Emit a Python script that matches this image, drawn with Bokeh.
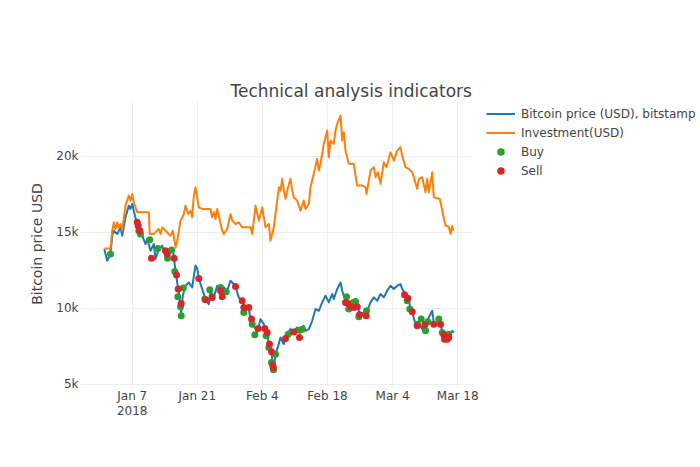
import pandas as pd
from bokeh.plotting import figure
from bokeh.models import (ColumnDataSource, Range1d, FixedTicker, CustomJSTickFormatter,
                          Legend, LegendItem, Title)
from bokeh.embed import file_html
from bokeh.resources import INLINE

# ---- data (time = days since 2018-01-01 00:00) ----
btc_day = [0.0, 0.62, 1.33, 1.70, 2.04, 2.77, 3.48, 3.85, 4.56, 5.27,
           5.63, 6.00, 6.34, 6.86, 7.42, 8.15, 8.86, 9.23, 9.94, 10.65,
           11.01, 11.72, 12.45, 12.80, 13.53, 14.24, 14.73, 14.95, 15.31, 15.68,
           16.02, 16.54, 16.88, 17.46, 18.17, 18.90, 19.61, 19.98, 20.32, 21.05,
           21.76, 22.47, 22.84, 23.55, 24.28, 24.99, 25.70, 26.43, 27.14, 27.85,
           28.22, 28.92, 29.66, 30.37, 31.08, 31.44, 32.15, 32.88, 33.59, 34.30,
           35.03, 35.38, 35.96, 36.24, 36.45, 36.82, 37.40, 37.89, 38.60, 39.33,
           40.04, 40.75, 41.48, 42.19, 42.90, 43.27, 43.98, 44.71, 45.42, 46.13,
           46.86, 47.57, 48.28, 49.01, 49.35, 50.08, 50.80, 51.16, 51.51, 52.24,
           52.95, 53.66, 54.39, 55.10, 55.81, 56.54, 57.25, 57.96, 58.69, 59.40,
           60.11, 60.84, 61.55, 62.26, 62.99, 63.70, 64.06, 64.77, 65.48, 65.85,
           66.22, 66.92, 67.63, 68.37, 69.08, 69.78, 70.52, 70.86, 71.59, 72.30,
           72.67, 73.38, 74.09, 74.82, 75.16]
btc_usd = [13880, 13110, 13550, 14760, 15090, 14870, 15310, 14760, 15970, 16740,
           16520, 16850, 16410, 15750, 15310, 14760, 14210, 14540, 13770, 14210,
           13230, 13880, 14100, 13660, 13880, 13660, 13880, 13330, 12460, 11680,
           11030, 9700, 10810, 11470, 11680, 11360, 12800, 12600, 11950, 11250,
           10590, 10260, 11140, 10700, 11470, 11140, 11360, 11140, 11800, 11580,
           11420, 10700, 10370, 9930, 9930, 9270, 8830, 8390, 9270, 8940,
           8280, 7630, 7070, 6190, 5980, 6970, 7510, 8060, 7630, 8280,
           8610, 8500, 8720, 8610, 8830, 8500, 8610, 9160, 9930, 9820,
           10370, 10810, 10370, 10920, 10590, 11250, 11680, 11140, 10810, 10370,
           10150, 10260, 10040, 9600, 9710, 9820, 10370, 10700, 10480, 10920,
           10700, 11140, 11470, 11250, 11470, 11580, 11250, 10920, 10590, 9930,
           9710, 8940, 9050, 8610, 8940, 9380, 9820, 9050, 8940, 9050,
           8390, 7950, 8060, 8500, 8390]

inv_day = [0.0, 1.33, 1.70, 2.04, 2.41, 2.77, 3.12, 3.48, 3.85, 4.56,
           5.27, 5.63, 6.00, 6.34, 7.08, 9.57, 9.78, 10.58, 11.01, 11.72,
           12.09, 12.45, 13.16, 14.24, 14.73, 15.31, 15.68, 16.39, 17.10, 17.46,
           18.04, 18.54, 18.90, 19.25, 19.61, 19.98, 20.32, 21.05, 22.84, 23.20,
           23.55, 23.91, 24.28, 24.62, 25.35, 25.70, 26.43, 27.14, 27.51, 28.22,
           28.92, 29.66, 31.44, 31.81, 32.52, 33.23, 33.96, 34.67, 35.38, 35.74,
           36.45, 37.18, 37.53, 37.89, 38.26, 38.60, 38.97, 39.33, 40.04, 40.41,
           40.75, 41.48, 42.19, 42.90, 43.27, 43.98, 44.34, 45.05, 45.78, 46.13,
           46.49, 47.20, 47.94, 48.28, 48.65, 49.35, 49.72, 50.09, 50.80, 51.16,
           51.51, 51.87, 52.58, 53.66, 54.02, 54.39, 55.46, 56.17, 56.39, 56.88,
           57.25, 57.96, 58.32, 58.82, 59.40, 60.11, 60.69, 61.55, 62.26, 62.99,
           63.70, 64.06, 64.77, 65.48, 66.22, 66.56, 67.29, 67.63, 68.37, 69.08,
           69.44, 69.78, 70.52, 70.86, 72.15, 72.67, 73.38, 74.09, 74.45, 74.82,
           75.03]
inv_usd = [13925, 13925, 15090, 15640, 15200, 15640, 15310, 15530, 15100, 16740,
           17400, 17070, 17510, 16955, 16300, 16300, 14870, 14870, 14980, 15200,
           14870, 15310, 15090, 14760, 15090, 13990, 14430, 15750, 16190, 16740,
           16190, 16410, 15970, 17400, 17950, 17290, 16630, 16520, 16520, 15970,
           16300, 15860, 16520, 16080, 15090, 14870, 15200, 16190, 15750, 15530,
           15640, 15310, 15310, 14870, 16740, 15750, 16630, 15310, 15530, 14430,
           15310, 17070, 17950, 17730, 18500, 17730, 17180, 17730, 18500, 17730,
           17290, 17070, 16410, 17070, 16520, 16850, 17950, 18830, 19820, 19050,
           19490, 20800, 21680, 19920, 21020, 20800, 21680, 22120, 22670, 21020,
           21570, 20360, 19490, 19490, 18720, 18060, 18060, 17950, 17510, 18390,
           19050, 19270, 18610, 18940, 18170, 19600, 19270, 20250, 19710, 20360,
           20580, 20030, 19270, 19160, 18940, 18610, 17840, 18500, 18610, 17620,
           18500, 17620, 18940, 17290, 17180, 16410, 15420, 15350, 14870, 15420,
           15090]

buy_day = [1.33, 7.42, 7.78, 9.78, 11.50, 13.60, 14.45, 15.16, 15.81, 16.39,
           16.54, 16.97, 21.61, 22.69, 24.99, 26.22, 30.00, 31.81, 32.37, 34.82,
           35.38, 35.96, 36.39, 36.82, 39.55, 41.98, 42.56, 52.09, 52.58, 53.53,
           54.02, 54.73, 56.39, 65.14, 65.70, 67.29, 68.15, 69.08, 69.57, 71.94,
           72.67, 74.09]
buy_usd = [13555, 15090, 14870, 14500, 13925, 13270, 13815, 12410, 10740, 10080,
           9490, 11315, 10590, 11200, 11355, 11070, 9710, 8940, 8240, 8170,
           7400, 6410, 5930, 6965, 8280, 8545, 8610, 10740, 9930, 10365,
           10430, 9420, 9820, 10480, 9930, 8940, 9270, 8500, 9090, 9270,
           8390, 8280]

sell_day = [7.08, 7.29, 7.63, 10.15, 13.16, 13.53, 15.03, 15.53, 15.89, 16.54,
            20.32, 21.76, 23.20, 24.99, 25.35, 28.22, 29.66, 30.00, 31.08, 31.66,
            33.10, 34.52, 35.03, 35.53, 35.96, 36.24, 36.32, 38.97, 40.75, 41.98,
            51.87, 52.37, 52.95, 53.66, 54.39, 54.88, 56.32, 64.56, 65.27, 66.22,
            67.29, 68.94, 70.86, 72.30, 73.00, 73.16, 73.74, 74.09]
sell_usd = [15640, 15420, 15090, 13270, 13770, 13555, 13270, 12170, 11250, 10300,
            11950, 10545, 10700, 11137, 10740, 11420, 10480, 10040, 10040, 9270,
            8650, 8650, 8390, 7625, 7115, 6240, 6080, 7990, 8430, 8060,
            10365, 10300, 10080, 10035, 10080, 9550, 9490, 10870, 10650, 9750,
            8830, 8900, 8940, 8940, 8240, 7950, 7950, 8060]

x_tick_dates = ["2018-01-07", "2018-01-21", "2018-02-04", "2018-02-18", "2018-03-04", "2018-03-18"]
y_ticks = [5000, 10000, 15000, 20000]

series_names = ["Bitcoin price (USD), bitstamp", "Investment(USD)", "Buy", "Sell"]
chart_title = "Technical analysis indicators"
y_title = "Bitcoin price USD"

# ---- helpers ----
origin = pd.Timestamp("2018-01-01")


def to_dt(days):
    return (origin + pd.to_timedelta(days, unit="D")).to_numpy()


btc_src = ColumnDataSource(dict(x=to_dt(btc_day), y=btc_usd))
inv_src = ColumnDataSource(dict(x=to_dt(inv_day), y=inv_usd))
buy_src = ColumnDataSource(dict(x=to_dt(buy_day), y=buy_usd))
sell_src = ColumnDataSource(dict(x=to_dt(sell_day), y=sell_usd))

FONT = "DejaVu Sans"
TXT = "#444444"

p = figure(width=684, height=451, frame_width=392, frame_height=287,
           x_axis_type="datetime",
           output_backend="svg", toolbar_location=None, tools="",
           x_range=Range1d(origin + pd.Timedelta(days=-5.12), origin + pd.Timedelta(days=79.18)),
           y_range=Range1d(4770, 23657),
           min_border_left=80, min_border_right=0, min_border_top=100, min_border_bottom=64)
p.outline_line_color = None
p.background_fill_color = "white"
p.border_fill_color = "white"

r_btc = p.line("x", "y", source=btc_src, line_color="#1f77b4", line_width=2, line_join="round")
r_inv = p.line("x", "y", source=inv_src, line_color="#ff7f0e", line_width=2, line_join="round")
r_buy = p.scatter("x", "y", source=buy_src, size=7, fill_color="#2ca02c", line_color=None)
r_sell = p.scatter("x", "y", source=sell_src, size=7, fill_color="#d62728", line_color=None)

# axes
xt = FixedTicker(ticks=[int(pd.Timestamp(d).value // 10**6) for d in x_tick_dates])
yt = FixedTicker(ticks=y_ticks)
p.xaxis[0].ticker = xt
p.xgrid[0].ticker = xt
p.yaxis[0].ticker = yt
p.ygrid[0].ticker = yt

p.xaxis[0].formatter = CustomJSTickFormatter(code="""
const m = ["Jan","Feb","Mar","Apr","May","Jun","Jul","Aug","Sep","Oct","Nov","Dec"];
const d = new Date(tick);
let s = m[d.getUTCMonth()] + " " + d.getUTCDate();
if (index == 0) { s += "\\n" + d.getUTCFullYear(); }
return s;
""")
p.yaxis[0].formatter = CustomJSTickFormatter(code="return (tick/1000) + 'k';")

for ax in (p.xaxis[0], p.yaxis[0]):
    ax.axis_line_color = None
    ax.major_tick_line_color = None
    ax.minor_tick_line_color = None
    ax.major_tick_out = 0
    ax.major_tick_in = 0
    ax.major_label_text_font = FONT
    ax.major_label_text_font_size = "12px"
    ax.major_label_text_color = TXT
p.xaxis[0].major_label_standoff = 1
p.xaxis[0].major_label_text_line_height = 1.1
p.yaxis[0].major_label_standoff = 2
p.yaxis[0].axis_label = y_title
p.yaxis[0].axis_label_text_font = FONT
p.yaxis[0].axis_label_text_font_size = "14px"
p.yaxis[0].axis_label_text_font_style = "normal"
p.yaxis[0].axis_label_text_color = TXT
p.yaxis[0].axis_label_standoff = 8

for g in (p.xgrid[0], p.ygrid[0]):
    g.grid_line_color = "#eeeeee"
    g.grid_line_width = 1

# title: the real title is added first (outer), an invisible spacer after it
# (next to the plot area) pushes it up
p.title.text = ""
main_title = Title(text=chart_title, align="left", offset=150, standoff=0,
                   text_font=FONT, text_font_size="17px", text_font_style="normal",
                   text_color=TXT)
p.add_layout(main_title, "above")
spacer = Title(text=" ", text_font=FONT, text_font_size="17px", text_alpha=0, standoff=25)
p.add_layout(spacer, "above")

# legend (outside, to the right of the plot area)
legend = Legend(items=[LegendItem(label=series_names[0], renderers=[r_btc]),
                       LegendItem(label=series_names[1], renderers=[r_inv]),
                       LegendItem(label=series_names[2], renderers=[r_buy]),
                       LegendItem(label=series_names[3], renderers=[r_sell])],
                location=(14, 207), orientation="vertical",
                padding=0, margin=0, spacing=0,
                glyph_width=29, glyph_height=19, label_height=19, label_standoff=6,
                label_text_font=FONT, label_text_font_size="12px", label_text_color=TXT,
                border_line_color=None, background_fill_alpha=0)
p.add_layout(legend, "right")

open("out.html", "w").write(file_html(p, INLINE))
